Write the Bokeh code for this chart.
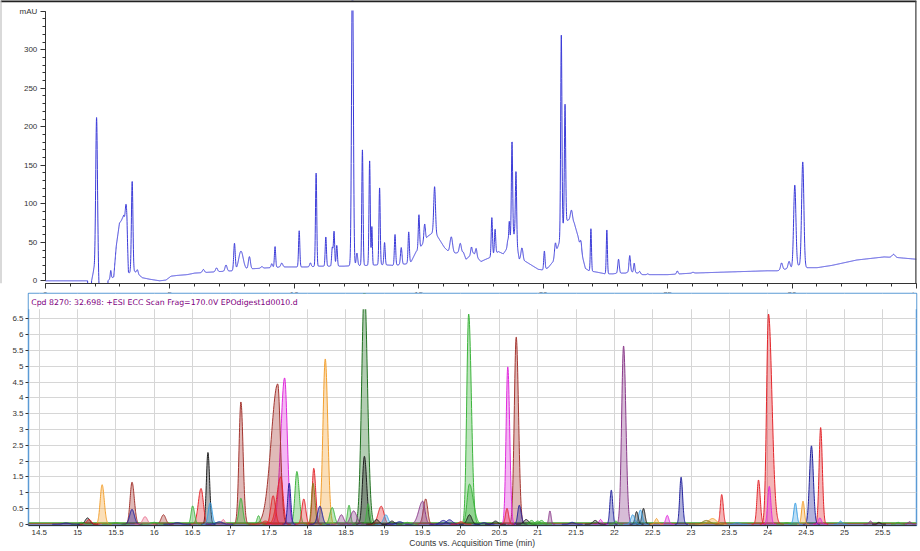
import numpy as np
from bokeh.plotting import figure
from bokeh.layouts import column
from bokeh.models import Range1d, FixedTicker, Label
from bokeh.embed import file_html
from bokeh.resources import INLINE

# ---------------- UV chromatogram (top panel) ----------------
uv_base_t = [0.0, 1.70, 1.72, 1.83, 1.86, 1.95, 2.12, 2.19, 2.48, 2.52, 2.60, 2.75,
             2.85, 2.98, 3.05, 3.15, 3.28, 3.34, 3.60, 3.75, 3.90, 4.20, 4.60, 4.85,
             5.05, 5.30, 5.70, 6.00, 6.50, 7.00, 7.50, 8.00, 8.50, 9.00, 9.50, 10.0,
             10.5, 11.0, 11.5, 12.0, 12.5, 13.0, 13.5, 14.0, 14.5, 14.7, 14.9, 15.1,
             15.37, 15.55, 15.75, 16.04, 16.2, 16.44, 16.8, 16.9, 17.2, 17.5, 17.7,
             17.85, 18.2, 18.4, 18.55, 18.7, 18.85, 18.98, 19.04, 19.3, 19.5, 19.8,
             20.0, 20.2, 20.4, 20.55, 20.7, 20.8, 20.95, 21.1, 21.25, 21.4, 21.55,
             21.7, 21.85, 22.2, 22.5, 22.8, 23.0, 23.3, 23.5, 23.8, 24.0, 24.5, 25.0,
             25.5, 26.0, 27.0, 28.0, 29.0, 29.4, 29.7, 30.0, 30.25, 30.6, 31.0, 31.6,
             32.6, 33.7, 34.3, 35.0]
uv_base_v = [0, 0, -30, -30, 0, 15, 15, -30, -30, 0, 3, 5,
             45, 75, 78, 85, 60, 10, 12, 8, 4, 2, 0, 1,
             6, 7, 8, 10, 11, 12, 13, 15, 16, 17, 18, 18,
             18, 19, 19, 19, 20, 20, 21, 20, 22, 25, 38, 45,
             58, 62, 58, 43, 38, 36, 37, 28, 36, 25, 28,
             30, 38, 35, 42, 55, 60, 40, 28, 25, 21, 15,
             14, 17, 25, 40, 55, 70, 78, 80, 75, 58, 35,
             16, 13, 11, 9, 9, 10, 10, 12, 10, 8, 8, 8,
             9, 10, 11, 12, 13, 13, 15, 17, 20, 17, 17, 20,
             27, 31, 30, 28]

uv_rt = [2.06, 2.63, 3.25, 3.49, 3.70, 6.35, 6.88, 7.26, 7.60, 7.86,
         8.20, 8.70, 9.10, 9.23, 9.50, 10.20, 10.65, 10.88, 11.27, 11.53,
         11.60, 11.71, 12.34, 12.52, 12.74, 13.03, 13.12, 13.43, 13.63, 14.05,
         14.30, 14.60, 15.01, 15.24, 15.64, 16.31, 16.67, 17.12, 17.31, 17.94,
         18.07, 18.58, 18.64, 18.75, 18.91, 19.15, 20.05, 20.49, 20.73, 20.88,
         21.14, 21.52, 21.92, 22.56, 23.03, 23.48, 23.66, 23.88, 24.20, 25.39,
         26.02, 29.58, 29.88, 30.11, 30.43, 34.08]
uv_h = [197, 10, 33, 118, 5, 4, 5, 8, 35, 24,
        16, 2, 5, 27, 5, 47, 5, 121, 38, 24,
        45, 27, 400, 16, 150, 136, 50, 100, 29, 40,
        22, 40, 44, 22, 62, 20, 12, 10, 10, 50,
        32, 8, 27, 124, 91, 16, 24, 15, 260, 155,
        13, 12, 55, 57, 18, 21, 12, 3, 1, 4,
        1, 9, 9, 106, 136, 4]
uv_sig = [0.035, 0.02, 0.035, 0.03, 0.03, 0.04, 0.04, 0.04, 0.03, 0.09,
          0.04, 0.04, 0.03, 0.025, 0.04, 0.025, 0.03, 0.025, 0.025, 0.025,
          0.025, 0.025, 0.035, 0.03, 0.025, 0.025, 0.02, 0.025, 0.025, 0.025,
          0.03, 0.025, 0.025, 0.03, 0.035, 0.05, 0.04, 0.03, 0.03, 0.025,
          0.025, 0.025, 0.02, 0.025, 0.025, 0.04, 0.025, 0.03, 0.025, 0.025,
          0.04, 0.03, 0.022, 0.022, 0.03, 0.03, 0.025, 0.03, 0.03, 0.03,
          0.04, 0.04, 0.04, 0.045, 0.045, 0.06]

uv_yticks = [0, 50, 100, 150, 200, 250, 300, 350]
uv_xticks = [0, 5, 10, 15, 20, 25, 30, 35]

# ---------------- Compound chromatograms (bottom panel) ----------------
ms_rt = [15.13, 15.15, 15.32, 15.71, 15.71, 15.88, 16.12, 16.50, 16.61, 16.70,
         16.73, 16.90, 17.13, 17.13, 17.36, 17.61, 17.70, 17.65, 17.55, 17.76,
         17.86, 17.95, 18.08, 18.07, 18.16, 18.23, 18.32, 18.44, 18.54, 18.60,
         18.74, 18.74, 18.79, 18.96, 19.02, 19.50, 19.54, 19.77, 20.10, 20.11,
         20.11, 20.61, 20.72, 20.60, 20.76, 21.16, 21.00, 21.96, 22.12, 22.24,
         22.29, 22.34, 22.38, 22.55, 22.69, 22.87, 23.28, 23.40, 23.88, 24.01,
         24.02, 24.36, 24.46, 24.57, 24.69, 24.68, 24.95, 25.34, 14.85, 15.05,
         15.50, 16.00, 16.30, 16.85, 17.45, 18.90, 19.10, 19.20, 19.30, 19.85,
         20.00, 20.30, 20.45, 20.85, 20.92, 21.05, 21.45, 21.75, 21.82, 22.02,
         23.20, 23.60, 24.25, 25.45, 25.70, 25.85]
ms_height = [0.20, 0.15, 1.25, 1.33, 0.47, 0.24, 0.30, 0.58, 1.13, 2.27,
             0.68, 0.15, 3.87, 0.82, 0.27, 4.44, 4.63, 1.50, 0.90, 1.30,
             1.67, 0.80, 1.77, 1.30, 0.57, 5.23, 0.53, 0.30, 0.60, 0.42,
             7.50, 2.15, 0.65, 0.57, 0.30, 0.73, 0.80, 0.12, 6.65, 1.27,
             0.30, 4.98, 5.92, 0.50, 0.60, 0.42, 0.10, 1.08, 5.64, 0.30,
             0.40, 0.45, 0.50, 0.18, 0.28, 1.49, 0.18, 0.94, 1.40, 6.65,
             1.20, 0.67, 0.73, 2.48, 3.06, 0.20, 0.10, 0.10, 0.04, 0.06,
             0.05, 0.06, 0.05, 0.08, 0.10, 0.15, 0.10, 0.08, 0.06, 0.14,
             0.08, 0.05, 0.10, 0.15, 0.12, 0.12, 0.06, 0.12, 0.15, 0.10,
             0.12, 0.05, 0.05, 0.06, 0.06, 0.08]
ms_sig_left = [0.03, 0.03, 0.025, 0.025, 0.03, 0.03, 0.03, 0.02, 0.035, 0.02,
               0.025, 0.02, 0.025, 0.025, 0.02, 0.085, 0.05, 0.05, 0.03, 0.02,
               0.025, 0.025, 0.02, 0.02, 0.03, 0.03, 0.03, 0.03, 0.02, 0.04,
               0.035, 0.025, 0.02, 0.04, 0.03, 0.05, 0.03, 0.04, 0.025, 0.03,
               0.03, 0.022, 0.025, 0.02, 0.02, 0.015, 0.03, 0.018, 0.025, 0.025,
               0.02, 0.025, 0.02, 0.02, 0.02, 0.018, 0.05, 0.018, 0.02, 0.025,
               0.02, 0.02, 0.018, 0.025, 0.02, 0.02, 0.02, 0.02, 0.04, 0.03,
               0.04, 0.04, 0.04, 0.04, 0.04, 0.03, 0.03, 0.04, 0.03, 0.04,
               0.03, 0.03, 0.03, 0.03, 0.03, 0.03, 0.03, 0.03, 0.02, 0.02,
               0.05, 0.03, 0.03, 0.02, 0.02, 0.02]
ms_sig_right = [0.03, 0.03, 0.028, 0.03, 0.03, 0.03, 0.03, 0.025, 0.03, 0.022,
                0.025, 0.02, 0.028, 0.025, 0.02, 0.035, 0.035, 0.03, 0.03, 0.02,
                0.03, 0.025, 0.025, 0.025, 0.03, 0.033, 0.03, 0.03, 0.02, 0.04,
                0.04, 0.03, 0.02, 0.035, 0.03, 0.03, 0.025, 0.04, 0.035, 0.05,
                0.03, 0.025, 0.03, 0.02, 0.025, 0.015, 0.03, 0.018, 0.03, 0.025,
                0.02, 0.025, 0.02, 0.02, 0.02, 0.02, 0.05, 0.02, 0.022, 0.045,
                0.02, 0.02, 0.018, 0.025, 0.022, 0.02, 0.02, 0.02, 0.04, 0.03,
                0.04, 0.04, 0.04, 0.04, 0.04, 0.03, 0.03, 0.04, 0.03, 0.04,
                0.03, 0.03, 0.03, 0.03, 0.03, 0.03, 0.03, 0.03, 0.02, 0.02,
                0.05, 0.03, 0.03, 0.02, 0.02, 0.02]
ms_trace = ["black", "red", "orange", "maroon", "navy", "pink", "maroon", "green", "red", "black",
            "ltblue", "pink", "maroon", "green", "green", "maroon", "magenta", "red", "red", "navy",
            "green", "red", "red", "olive", "navy", "orange", "green", "purple", "green", "purple",
            "dkgreen", "black", "green", "red", "ltblue", "purple", "maroon", "navy", "green", "green",
            "black", "magenta", "maroon", "red", "navy", "purple", "green", "navy", "purple", "ltblue",
            "black", "ltblue", "black", "orange", "magenta", "navy", "orange", "red", "red", "red",
            "magenta", "ltblue", "orange", "navy", "red", "magenta", "ltblue", "purple", "navy", "green",
            "green", "green", "navy", "navy", "red", "black", "black", "navy", "green", "navy",
            "red", "navy", "black", "black", "green", "green", "navy", "black", "magenta", "green",
            "olive", "ltblue", "green", "black", "green", "purple"]
ms_floor = [0.012, 0.025, 0.04]
ms_floor_trace = ["navy", "red", "green"]

ms_xticks = [14.5, 15, 15.5, 16, 16.5, 17, 17.5, 18, 18.5, 19, 19.5, 20,
             20.5, 21, 21.5, 22, 22.5, 23, 23.5, 24, 24.5, 25, 25.5]
ms_yticks = [0, 0.5, 1, 1.5, 2, 2.5, 3, 3.5, 4, 4.5, 5, 5.5, 6, 6.5]
ms_title = "Cpd 8270: 32.698: +ESI ECC Scan Frag=170.0V EPOdigest1d0010.d"

# ---------------- styles ----------------
FONT = "Liberation Sans"
AX = "#333333"
UV_COLOR = "#3b3bd8"
PALETTE = {"red": "#e3262b", "maroon": "#a3352f", "magenta": "#e02adc", "green": "#3cb43c",
           "dkgreen": "#1f701f", "orange": "#f2a030", "purple": "#8a3a8a", "navy": "#20209c",
           "ltblue": "#3a9ee2", "black": "#1e1e1e", "olive": "#8a7a1a", "pink": "#e8708e"}
W = 918


def style_axis(ax, size="8px"):
    ax.axis_line_color = AX
    ax.major_tick_line_color = AX
    ax.minor_tick_line_color = AX
    ax.major_tick_in = 0
    ax.minor_tick_in = 0
    ax.major_label_text_font = FONT
    ax.major_label_text_font_size = size
    ax.major_label_text_color = AX


# ---------------- top figure ----------------
# frame spans the whole panel width; time 0 sits 45 px from the left edge
UV_X0, UV_X1, UV_Y0, UV_Y1 = -1.80, 35.0, -3.5, 364
UV_CLIP = 351

t = np.arange(0.0, 35.0 + 1e-9, 0.004)
uv = np.interp(t, uv_base_t, uv_base_v)
for rt, h, s in zip(uv_rt, uv_h, uv_sig):
    uv = uv + h * np.exp(-0.5 * ((t - rt) / s) ** 2)

p1 = figure(width=W, height=301, x_range=Range1d(UV_X0, UV_X1), y_range=Range1d(UV_Y0, UV_Y1),
            output_backend="svg", toolbar_location=None,
            min_border_left=0, min_border_right=2, min_border_top=0, min_border_bottom=0)
p1.frame_align = False
p1.grid.visible = False
p1.outline_line_color = None
p1.line(t, uv, line_color=UV_COLOR, line_width=1)
p1.quad(left=[UV_X0], right=[UV_X1], bottom=[UV_CLIP], top=[UV_Y1],
        fill_color="white", line_color=None)
# panel border (top, left and right edges)
p1.line([UV_X0, UV_X1], [UV_Y1, UV_Y1], line_color="#222222", line_width=3.5)
p1.line([UV_X0, UV_X0], [UV_Y0, UV_Y1], line_color="#b4b4b4", line_width=2)
p1.line([UV_X1, UV_X1], [UV_Y0, UV_Y1], line_color="#444444", line_width=2.5)

style_axis(p1.yaxis[0])
style_axis(p1.xaxis[0])
p1.yaxis.fixed_location = 0
p1.yaxis.bounds = (0, 350)
p1.yaxis.ticker = FixedTicker(ticks=uv_yticks, minor_ticks=list(range(0, 351, 10)))
p1.yaxis.major_label_overrides = {350: "mAU"}
p1.yaxis.major_tick_out = 5
p1.yaxis.minor_tick_out = 3
p1.yaxis.major_label_standoff = 3
p1.xaxis.bounds = (0, 35)
p1.xaxis.ticker = FixedTicker(ticks=uv_xticks, minor_ticks=list(range(0, 36)))
p1.xaxis.major_label_overrides = {35: "min"}
p1.xaxis.major_tick_out = 5
p1.xaxis.minor_tick_out = 3
p1.xaxis.major_label_standoff = 1

# ---------------- bottom figure ----------------
MS_X0, MS_X1, MS_Y0, MS_Y1 = 14.36, 25.94, -0.04, 7.3
MS_CLIP = 6.8

p2 = figure(width=W, height=258, x_range=Range1d(MS_X0, MS_X1), y_range=Range1d(MS_Y0, MS_Y1),
            output_backend="svg", toolbar_location=None,
            min_border_left=28, min_border_right=2, min_border_top=1, min_border_bottom=0)
p2.frame_align = False
p2.margin = (-9, 0, 0, 0)
p2.outline_line_color = "#5b9bd5"
p2.outline_line_width = 1.5
p2.xgrid.ticker = FixedTicker(ticks=ms_xticks)
p2.ygrid.ticker = FixedTicker(ticks=ms_yticks)
p2.grid.grid_line_color = "#d6d6d6"
p2.grid.grid_line_width = 1

for lvl, key in zip(ms_floor, ms_floor_trace):
    p2.line([MS_X0, MS_X1], [lvl, lvl], line_color=PALETTE[key], line_width=1.2)

order = np.argsort(ms_height)[::-1]
for i in order:
    rt, h, sl, sr = ms_rt[i], ms_height[i], ms_sig_left[i], ms_sig_right[i]
    c = PALETTE[ms_trace[i]]
    x = np.linspace(rt - 4.5 * sl, rt + 4.5 * sr, 121)
    s = np.where(x < rt, sl, sr)
    y = h * np.exp(-0.5 * ((x - rt) / s) ** 2)
    p2.varea(x=x, y1=np.zeros_like(x), y2=y, fill_color=c, fill_alpha=0.34)
    p2.line(x, y, line_color=c, line_width=1)

p2.quad(left=[MS_X0], right=[MS_X1], bottom=[MS_CLIP], top=[MS_Y1],
        fill_color="white", line_color=None)

style_axis(p2.xaxis[0])
style_axis(p2.yaxis[0])
p2.yaxis.axis_line_color = None
p2.xaxis.ticker = FixedTicker(ticks=ms_xticks)
p2.xaxis.major_label_overrides = {v: ("%g" % v) for v in ms_xticks}
p2.yaxis.ticker = FixedTicker(ticks=ms_yticks)
p2.yaxis.major_label_overrides = {v: ("%g" % v) for v in ms_yticks}
p2.xaxis.major_tick_out = 3
p2.yaxis.major_tick_out = 3
p2.xaxis.minor_tick_line_color = None
p2.yaxis.minor_tick_line_color = None
p2.xaxis.major_label_standoff = 1
p2.yaxis.major_label_standoff = 2
p2.xaxis.axis_label = "Counts vs. Acquisition Time (min)"
p2.xaxis.axis_label_text_font = FONT
p2.xaxis.axis_label_text_font_size = "8.5px"
p2.xaxis.axis_label_text_font_style = "normal"
p2.xaxis.axis_label_text_color = AX
p2.xaxis.axis_label_standoff = 0

p2.add_layout(Label(x=MS_X0 + 0.035, y=7.03, text=ms_title, text_font="DejaVu Sans",
                    text_font_size="7.8px", text_color="#800080", text_baseline="middle"))
p2.add_layout(Label(x=MS_X0 - 0.335, y=6.99, text="x10", text_font=FONT,
                    text_font_size="8px", text_color=AX, text_baseline="middle"))
p2.add_layout(Label(x=MS_X0 - 0.15, y=7.1, text="6", text_font=FONT,
                    text_font_size="6px", text_color=AX, text_baseline="middle"))

layout = column(p1, p2, spacing=0)
open("out.html", "w").write(file_html(layout, INLINE))
